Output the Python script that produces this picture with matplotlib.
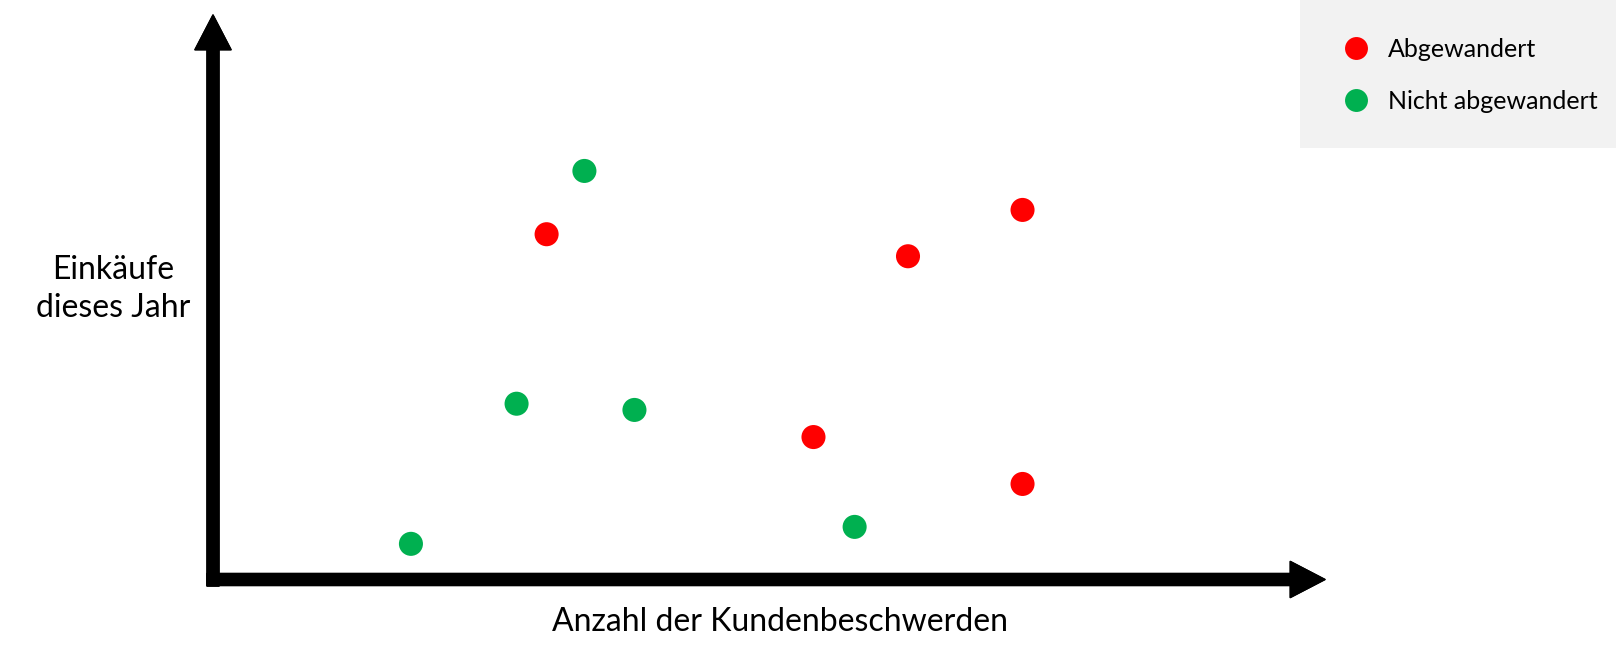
import matplotlib
matplotlib.use("Agg")
import matplotlib.pyplot as plt
from matplotlib.patches import Rectangle
from matplotlib.lines import Line2D

# Kunden, die abgewandert sind (rot) und geblieben sind (gruen)
# x: Anzahl der Kundenbeschwerden, y: Einkaeufe dieses Jahr (relative Einheiten 0-100)
churn_x = [30.0, 62.5, 72.8, 54.0, 72.8]
churn_y = [61.2, 57.3, 65.5, 25.3, 17.0]
stay_x = [33.4, 27.3, 37.9, 17.8, 57.7]
stay_y = [72.4, 31.2, 30.1, 6.4, 9.4]

legend_labels = ["Abgewandert", "Nicht abgewandert"]
x_label = "Anzahl der Kundenbeschwerden"
y_label = "Einkäufe\ndieses Jahr"

RED = "#ff0000"
GREEN = "#00b050"
FONT = ["Lato", "DejaVu Sans"]

W, H = 1616, 656
fig = plt.figure(figsize=(W / 100, H / 100), dpi=100)

# axes area: origin at the corner of the arrows, top/right at the arrow tips
x0, y0, x1, y1 = 213, 580, 1325, 15
ax = fig.add_axes([x0 / W, 1 - y0 / H, (x1 - x0) / W, (y0 - y1) / H])
ax.set_xlim(0, 100)
ax.set_ylim(0, 100)
ax.set_axis_off()

ax.scatter(churn_x, churn_y, s=300, color=RED, edgecolors="none", zorder=3)
ax.scatter(stay_x, stay_y, s=300, color=GREEN, edgecolors="none", zorder=3)

# arrows in figure pixels
arrow = dict(facecolor="black", edgecolor="black", width=8.6, headwidth=26,
             headlength=25, shrink=0)
fig.add_artist(plt.annotate("", xy=(x0, H - y1), xytext=(x0, H - 586),
                            xycoords="figure pixels", textcoords="figure pixels",
                            arrowprops=arrow))
fig.add_artist(plt.annotate("", xy=(x1, H - 579.5), xytext=(207, H - 579.5),
                            xycoords="figure pixels", textcoords="figure pixels",
                            arrowprops=arrow))

fig.text(780 / W, 1 - 622 / H, x_label, ha="center", va="center",
         fontsize=23, family=FONT)
fig.text(113 / W, 1 - 289 / H, y_label, ha="center", va="center",
         fontsize=23, family=FONT, linespacing=1.35)

# legend box
fig.add_artist(Rectangle((1300 / W, 1 - 148 / H), (W - 1300) / W, 148 / H,
                         transform=fig.transFigure, facecolor="#f2f2f2",
                         edgecolor="none", zorder=0))
handles = [Line2D([], [], marker="o", ls="none", ms=16.5, color=RED, mec="none"),
           Line2D([], [], marker="o", ls="none", ms=16.5, color=GREEN, mec="none")]
fig.legend(handles, legend_labels, loc="upper left",
           bbox_to_anchor=(1338 / W, 1 - 38 / H), frameon=False,
           prop={"family": FONT, "size": 18}, handletextpad=0.6,
           labelspacing=1.15, borderaxespad=0, borderpad=0, handlelength=1.4)

fig.savefig("out.png", dpi=100)
